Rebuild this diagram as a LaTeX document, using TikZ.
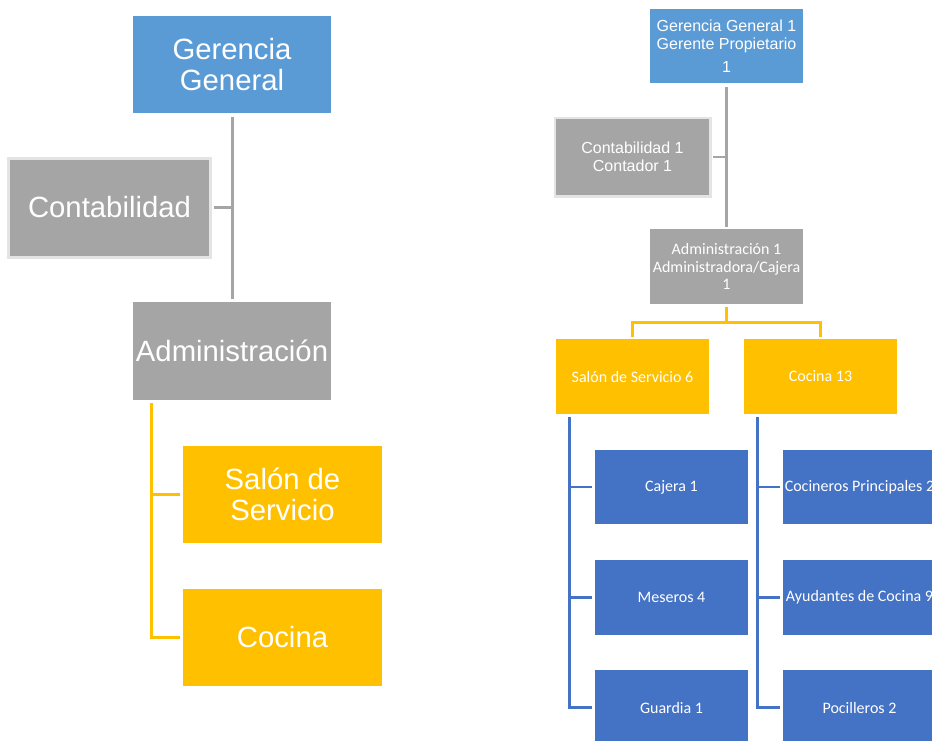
\documentclass[tikz,border=0pt]{standalone}
\usepackage{fontspec}
\setmainfont{Liberation Sans}
\newfontfamily\calib{Carlito}
\definecolor{topblue}{HTML}{5B9BD5}
\definecolor{boxgray}{HTML}{A5A5A5}
\definecolor{rimgray}{HTML}{E4E4E4}
\definecolor{gold}{HTML}{FFC000}
\definecolor{deepblue}{HTML}{4472C4}
\tikzset{
  box/.style={rectangle, inner sep=0pt, align=center, text=white},
  bigtxt/.style={font=\fontsize{29.3}{30.5}\selectfont},
  smalltxt/.style={font=\fontsize{16}{18}\selectfont},
  calibtxt/.style={font=\calib\fontsize{16}{17.5}\selectfont},
  gline/.style={draw=boxgray, line width=3pt},
  yline/.style={draw=gold, line width=2.7pt},
  bline/.style={draw=deepblue, line width=2.7pt},
}
\begin{document}
\begin{tikzpicture}[x=1pt,y=-1pt]
\useasboundingbox (0,0) rectangle (932,740);
\clip (0,0) rectangle (932,740);

% ---------- simple chart (left) ----------
\node[box, bigtxt, fill=topblue, minimum width=198, minimum height=97] (gg) at (232,64.5) {Gerencia\\General};
\node[box, bigtxt, fill=boxgray, draw=rimgray, line width=3pt, minimum width=202, minimum height=99] (cont) at (109.5,207.5) {Contabilidad};
\node[box, bigtxt, fill=boxgray, minimum width=198, minimum height=98] (adm) at (232,351) {Administración};
\node[box, bigtxt, fill=gold, minimum width=199, minimum height=97] (sal) at (282.5,494.5) {Salón de\\Servicio};
\node[box, bigtxt, fill=gold, minimum width=199, minimum height=97] (coc) at (282.5,637.5) {Cocina};

\draw[gline, shorten <=4pt, shorten >=3pt] (gg.south) -- (adm.north);
\draw[gline] ([xshift=1.5pt]cont.east) -- (cont.east -| gg.south);
\coordinate (ytop) at ([xshift=19pt,yshift=-3pt]adm.south west);
\draw[yline] (ytop) |- ([xshift=-3pt]coc.west);
\draw[yline] ([xshift=-3pt]sal.west) -- (sal.west -| ytop);

% ---------- detailed chart (right) ----------
\node[box, smalltxt, fill=topblue, minimum width=153, minimum height=74] (gg2) at (726.5,46) {Gerencia General 1\\Gerente Propietario\\[5pt]1};
\node[box, smalltxt, fill=boxgray, draw=rimgray, line width=2.5pt, minimum width=155.5, minimum height=78.5] (cont2) at (632.5,157) {Contabilidad 1\\Contador 1};
\node[box, calibtxt, fill=boxgray, minimum width=153, minimum height=75] (adm2) at (726.5,266.5) {Administración 1\\Administradora/Cajera\\1};
\node[box, calibtxt, fill=gold, minimum width=153, minimum height=75] (sal2) at (632.5,376.5) {Salón de Servicio 6};
\node[box, calibtxt, fill=gold, minimum width=153, minimum height=75] (coc2) at (820.5,376.5) {Cocina 13};

\draw[gline, line width=2.6pt, shorten <=4pt, shorten >=2pt] (gg2.south) -- (adm2.north);
\draw[gline, line width=2.6pt] ([xshift=1.25pt]cont2.east) -- (cont2.east -| gg2.south);
\draw[yline] ([yshift=-3pt]adm2.south) -- ++(0,15) coordinate (yj);
\draw[yline] ([yshift=2pt]sal2.north) |- (yj) -| ([yshift=2pt]coc2.north);

% staff under Salón de Servicio
\node[box, calibtxt, fill=deepblue, minimum width=153, minimum height=74] (caj) at (671.5,487) {Cajera 1};
\node[box, calibtxt, fill=deepblue, minimum width=153, minimum height=75] (mes) at (671.5,597.5) {Meseros 4};
\node[box, calibtxt, fill=deepblue, minimum width=153, minimum height=75] (gua) at (671.5,707.5) {Guardia 1};
% staff under Cocina
\node[box, calibtxt, fill=deepblue, minimum width=153, minimum height=74] (cpr) at (859.5,487) {Cocineros Principales 2};
\node[box, calibtxt, fill=deepblue, minimum width=153, minimum height=75] (ayu) at (859.5,597.5) {Ayudantes de Cocina 9};
\node[box, calibtxt, fill=deepblue, minimum width=153, minimum height=75] (poc) at (859.5,707.5) {Pocilleros 2};

\coordinate (sb) at ([xshift=14pt,yshift=-3pt]sal2.south west);
\draw[bline] (sb) |- ([xshift=-3pt]gua.west);
\draw[bline] ([xshift=-3pt]caj.west) -- (caj.west -| sb);
\draw[bline] ([xshift=-3pt]mes.west) -- (mes.west -| sb);

\coordinate (cb) at ([xshift=14pt,yshift=-3pt]coc2.south west);
\draw[bline] (cb) |- ([xshift=-3pt]poc.west);
\draw[bline] ([xshift=-3pt]cpr.west) -- (cpr.west -| cb);
\draw[bline] ([xshift=-3pt]ayu.west) -- (ayu.west -| cb);
\end{tikzpicture}
\end{document}
